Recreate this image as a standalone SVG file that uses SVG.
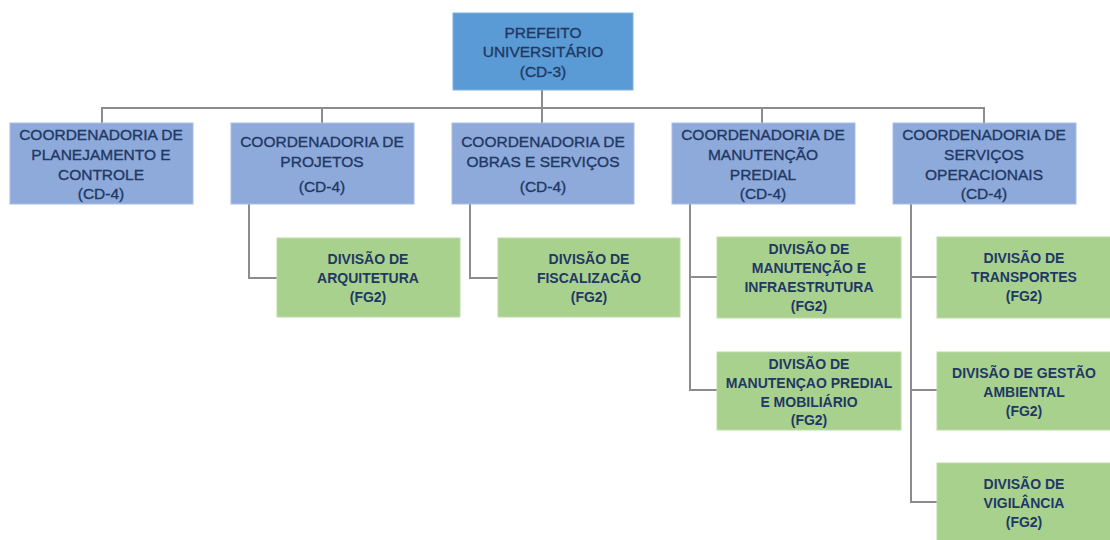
<svg xmlns="http://www.w3.org/2000/svg" width="1110" height="540" viewBox="0 0 1110 540">
<style>
.root{fill:#5b9bd5;stroke:#7fb0de;stroke-width:1}
.coord{fill:#8eaadb;stroke:#a9bde3;stroke-width:1}
.div{fill:#a9d18e;stroke:#bcdca6;stroke-width:1}
.t{font-family:"Liberation Sans",Arial,sans-serif;font-size:15.5px;fill:#1f3864;text-anchor:middle;stroke:#1f3864;stroke-width:0.35}
.tb{font-family:"Liberation Sans",Arial,sans-serif;font-size:14px;font-weight:bold;fill:#1f3864;text-anchor:middle}
.conn{fill:none;stroke:#8c8c8c;stroke-width:2}
</style>
<rect width="1110" height="540" fill="#ffffff"/>
<g id="connectors">
<path class="conn" d="M542 90V108M102 123V108H984V123M322 108V123M542 108V123M762 108V123"/>
<path class="conn" d="M249 204V278H277"/>
<path class="conn" d="M470 204V278H498"/>
<path class="conn" d="M690 204V390H717M690 277H717"/>
<path class="conn" d="M911 204V502H937M911 277H937M911 390H937"/>
</g>
<g id="prefeito">
<rect class="root" x="453" y="13" width="180" height="77"/>
<text class="t" x="543" y="38">PREFEITO</text>
<text class="t" x="543" y="57">UNIVERSITÁRIO</text>
<text class="t" x="543" y="77">(CD-3)</text>
</g>
<g id="coord-planejamento">
<rect class="coord" x="10" y="123" width="183" height="81"/>
<text class="t" x="101" y="140">COORDENADORIA DE</text>
<text class="t" x="101" y="160">PLANEJAMENTO E</text>
<text class="t" x="101" y="180">CONTROLE</text>
<text class="t" x="101" y="199">(CD-4)</text>
</g>
<g id="coord-projetos">
<rect class="coord" x="231" y="123" width="183" height="81"/>
<text class="t" x="322" y="147">COORDENADORIA DE</text>
<text class="t" x="322" y="167">PROJETOS</text>
<text class="t" x="322" y="192">(CD-4)</text>
</g>
<g id="coord-obras">
<rect class="coord" x="452" y="123" width="182" height="81"/>
<text class="t" x="543" y="147">COORDENADORIA DE</text>
<text class="t" x="543" y="167">OBRAS E SERVIÇOS</text>
<text class="t" x="543" y="192">(CD-4)</text>
</g>
<g id="coord-manutencao">
<rect class="coord" x="672" y="123" width="183" height="81"/>
<text class="t" x="763" y="140">COORDENADORIA DE</text>
<text class="t" x="763" y="160">MANUTENÇÃO</text>
<text class="t" x="763" y="180">PREDIAL</text>
<text class="t" x="763" y="199">(CD-4)</text>
</g>
<g id="coord-servicos">
<rect class="coord" x="893" y="123" width="183" height="81"/>
<text class="t" x="984" y="140">COORDENADORIA DE</text>
<text class="t" x="984" y="160">SERVIÇOS</text>
<text class="t" x="984" y="180">OPERACIONAIS</text>
<text class="t" x="984" y="199">(CD-4)</text>
</g>
<g id="div-arquitetura">
<rect class="div" x="277" y="238" width="183" height="79"/>
<text class="tb" x="368" y="264">DIVISÃO DE</text>
<text class="tb" x="368" y="283">ARQUITETURA</text>
<text class="tb" x="368" y="302">(FG2)</text>
</g>
<g id="div-fiscalizacao">
<rect class="div" x="498" y="238" width="182" height="79"/>
<text class="tb" x="589" y="264">DIVISÃO DE</text>
<text class="tb" x="589" y="283">FISCALIZACÃO</text>
<text class="tb" x="589" y="302">(FG2)</text>
</g>
<g id="div-infraestrutura">
<rect class="div" x="717" y="237" width="184" height="81"/>
<text class="tb" x="809" y="254">DIVISÃO DE</text>
<text class="tb" x="809" y="273">MANUTENÇÃO E</text>
<text class="tb" x="809" y="292">INFRAESTRUTURA</text>
<text class="tb" x="809" y="311">(FG2)</text>
</g>
<g id="div-predial">
<rect class="div" x="717" y="352" width="184" height="78"/>
<text class="tb" x="809" y="369">DIVISÃO DE</text>
<text class="tb" x="809" y="388">MANUTENÇAO PREDIAL</text>
<text class="tb" x="809" y="407">E MOBILIÁRIO</text>
<text class="tb" x="809" y="425">(FG2)</text>
</g>
<g id="div-transportes">
<rect class="div" x="937" y="237" width="180" height="81"/>
<text class="tb" x="1024" y="263">DIVISÃO DE</text>
<text class="tb" x="1024" y="282">TRANSPORTES</text>
<text class="tb" x="1024" y="301">(FG2)</text>
</g>
<g id="div-ambiental">
<rect class="div" x="937" y="352" width="180" height="78"/>
<text class="tb" x="1024" y="378">DIVISÃO DE GESTÃO</text>
<text class="tb" x="1024" y="397">AMBIENTAL</text>
<text class="tb" x="1024" y="416">(FG2)</text>
</g>
<g id="div-vigilancia">
<rect class="div" x="937" y="463" width="180" height="85"/>
<text class="tb" x="1024" y="489">DIVISÃO DE</text>
<text class="tb" x="1024" y="508">VIGILÂNCIA</text>
<text class="tb" x="1024" y="527">(FG2)</text>
</g>
</svg>
